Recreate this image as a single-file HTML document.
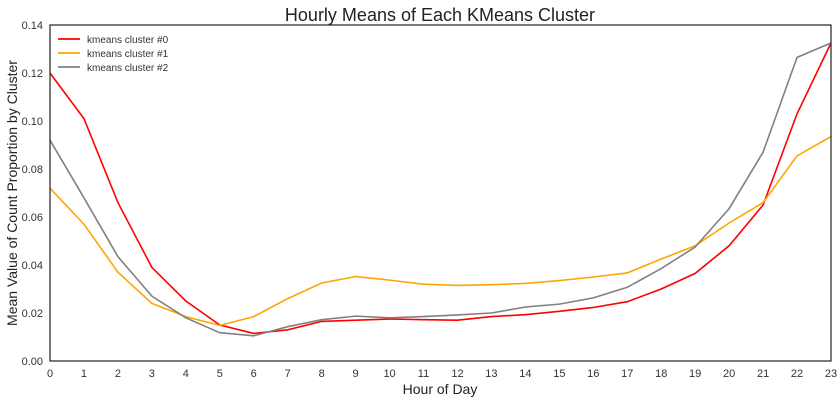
<!DOCTYPE html>
<html><head><meta charset="utf-8"><style>
body{margin:0;background:#fff;font-family:"Liberation Sans",sans-serif}
svg{display:block}
</style></head><body>
<svg id="chart" width="839" height="401">
<text x="440" y="21" font-size="18" text-anchor="middle" fill="#222">Hourly Means of Each KMeans Cluster</text>
<text x="440" y="394" font-size="14" text-anchor="middle" fill="#222">Hour of Day</text>
<text transform="translate(17,193) rotate(-90)" font-size="14" text-anchor="middle" fill="#222">Mean Value of Count Proportion by Cluster</text>
<g id="ticks"></g>
<g id="lines"></g>
<rect x="50" y="25" width="781" height="336" fill="none" stroke="#222" stroke-width="1.2"/>
<g id="legend"></g>
</svg>
<script>
const hours=[0,1,2,3,4,5,6,7,8,9,10,11,12,13,14,15,16,17,18,19,20,21,22,23];
const cluster0=[0.120,0.101,0.066,0.039,0.025,0.015,0.0115,0.013,0.0165,0.017,0.0175,0.0172,0.017,0.0185,0.0193,0.0207,0.0223,0.0247,0.030,0.0365,0.048,0.065,0.103,0.1325];
const cluster1=[0.072,0.057,0.037,0.024,0.0185,0.0148,0.0185,0.026,0.0325,0.0352,0.0337,0.032,0.0315,0.0318,0.0323,0.0335,0.035,0.0367,0.0425,0.048,0.0575,0.066,0.0855,0.0935];
const cluster2=[0.092,0.068,0.0435,0.027,0.018,0.0118,0.0105,0.0143,0.0172,0.0187,0.018,0.0185,0.0192,0.020,0.0225,0.0237,0.0263,0.0307,0.0385,0.0475,0.0635,0.087,0.1265,0.1325];
const yTicks=[0,0.02,0.04,0.06,0.08,0.10,0.12,0.14];
const seriesNames=["kmeans cluster #0","kmeans cluster #1","kmeans cluster #2"];
const NS="http://www.w3.org/2000/svg";
const x=h=>50+h*(781/23);
const y=v=>361-v/0.14*336;
const tg=document.getElementById('ticks');
yTicks.forEach(t=>{
  const e=document.createElementNS(NS,'text');
  e.setAttribute('x',43);e.setAttribute('y',y(t)+4);e.setAttribute('font-size','11');
  e.setAttribute('text-anchor','end');e.setAttribute('fill','#333');e.textContent=t.toFixed(2);
  
  
  tg.appendChild(e);
});
hours.forEach(h=>{
  const e=document.createElementNS(NS,'text');
  e.setAttribute('x',x(h));e.setAttribute('y',377);e.setAttribute('font-size','11');
  e.setAttribute('text-anchor','middle');e.setAttribute('fill','#333');e.textContent=h;
  
  
  tg.appendChild(e);
});
const colors=["#ff0000","#ffa500","#808080"];
const lg=document.getElementById('lines');
[cluster0,cluster1,cluster2].forEach((s,i)=>{
  const p=document.createElementNS(NS,'polyline');
  p.setAttribute('points',s.map((v,j)=>x(hours[j])+','+y(v)).join(' '));
  p.setAttribute('fill','none');p.setAttribute('stroke',colors[i]);p.setAttribute('stroke-width','1.6');
  
  
  lg.appendChild(p);
});
const leg=document.getElementById('legend');
seriesNames.forEach((n,i)=>{
  const l=document.createElementNS(NS,'line');
  l.setAttribute('x1',58);l.setAttribute('x2',80);l.setAttribute('y1',39+i*14);l.setAttribute('y2',39+i*14);
  l.setAttribute('stroke',colors[i]);l.setAttribute('stroke-width','1.8');
  
  
  leg.appendChild(l);
  const t=document.createElementNS(NS,'text');
  t.setAttribute('x',87);t.setAttribute('y',43+i*14);t.setAttribute('font-size','10');t.setAttribute('fill','#333');
  t.textContent=n;
  
  
  leg.appendChild(t);
});
</script>
</body></html>
